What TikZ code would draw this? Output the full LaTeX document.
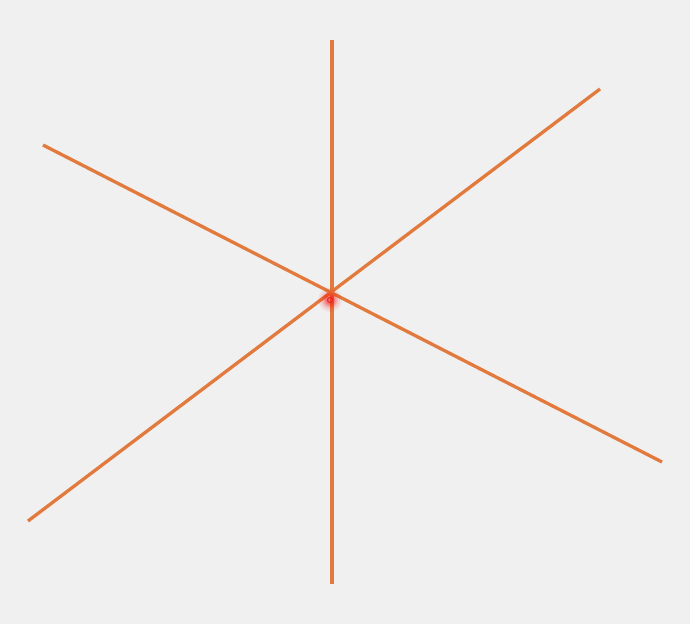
\documentclass[tikz,border=0pt]{standalone}
\definecolor{bg}{RGB}{240,240,240}
\definecolor{ln}{RGB}{226,122,62}
\definecolor{dotred}{RGB}{230,40,40}
\tikzset{ray/.style={draw=ln,line width=3.3pt}}
\begin{document}
\begin{tikzpicture}[x=1pt,y=-1pt]
\fill[bg] (0,0) rectangle (690,624);
\useasboundingbox (0,0) rectangle (690,624);
\coordinate (a1) at (43,145);
\coordinate (a2) at (662,462);
\coordinate (b1) at (600,89);
\coordinate (b2) at (28,521);
\coordinate (c1) at (332,40);
\coordinate (c2) at (332,584);
\coordinate (dot) at (330,300);
\draw[ray] (a1) -- (a2);
\draw[ray] (b1) -- (b2);
\draw[ray] (c1) -- (c2);
\foreach \r/\o in {12/0.06,10/0.08,8/0.12,6.5/0.16,5/0.2}
  \fill[red,opacity=\o] (dot) circle (\r);
\draw[dotred,line width=1.2pt] (dot) circle (2.5);
\end{tikzpicture}
\end{document}
